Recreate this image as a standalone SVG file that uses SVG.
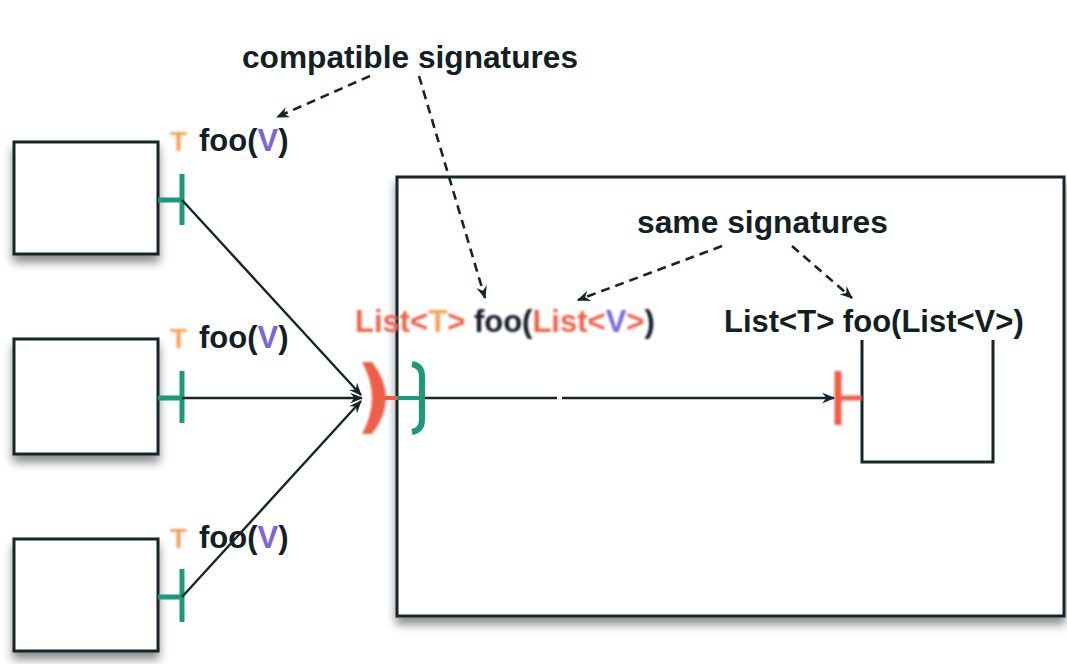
<svg xmlns="http://www.w3.org/2000/svg" width="1067" height="664" viewBox="0 0 1067 664">
  <style>
    .box { fill: #ffffff; stroke: #16252b; stroke-width: 3; }
    .txt { font-family: "Liberation Sans", Arial, sans-serif; font-weight: bold; font-size: 31px; fill: #141f25; }
    .ret { fill: #f7a257; font-size: 28px; }
    .tv { fill: #7a66d8; }
    .red { fill: #f0644e; }
    .conn { fill: none; stroke: #16252b; stroke-width: 2.4; }
    .dash { fill: none; stroke: #16252b; stroke-width: 2.6; stroke-dasharray: 9 6; }
    .gport { fill: none; stroke: #1a9a78; stroke-width: 5; }
    .rport { fill: none; stroke: #ef5d4a; }
  </style>
  <defs>
    <filter id="shadow" x="-10%" y="-10%" width="125%" height="130%">
      <feDropShadow dx="0" dy="7" stdDeviation="5" flood-color="#000000" flood-opacity="0.45"/>
    </filter>
    <filter id="soft" x="-20%" y="-20%" width="140%" height="140%">
      <feGaussianBlur stdDeviation="0.9"/>
    </filter>
    <marker id="arrow" viewBox="0 0 12 10" refX="11" refY="5" markerWidth="13" markerHeight="11" markerUnits="userSpaceOnUse" orient="auto">
      <path d="M0,0 L12,5 L0,10 L4,5 Z" fill="#16252b"/>
    </marker>
  </defs>
  <rect width="1067" height="664" fill="#ffffff"/>

  <!-- container component -->
  <g id="container">
    <rect class="box" x="397" y="177" width="667" height="439" filter="url(#shadow)"/>
  </g>

  <!-- inner part -->
  <g id="inner-part">
    <path d="M862,340 L862,462 L993,462 L993,340" fill="none" stroke="#16252b" stroke-width="3"/>
    <text class="txt" x="724" y="332">List&lt;T&gt; foo(List&lt;V&gt;)</text>
    <g filter="url(#soft)">
      <line class="rport" x1="838" y1="398" x2="862" y2="398" stroke-width="5"/>
      <line class="rport" x1="838" y1="371" x2="838" y2="425" stroke-width="7"/>
    </g>
  </g>

  <!-- container boundary ports -->
  <g id="boundary-ports">
    <path d="M362,362 L372,362 Q400,398 372,434 L362,434 Q382,398 362,362 Z" fill="#ee5f4a" filter="url(#soft)"/>
    <line x1="382" y1="398" x2="397" y2="398" stroke="#ef5d4a" stroke-width="4"/>
    <line x1="397" y1="398" x2="420" y2="398" stroke="#1a9a78" stroke-width="4"/>
    <path d="M412,364 Q422,366 422,376 L422,420 Q422,430 412,432" fill="none" stroke="#1a9a78" stroke-width="6"/>
    <text class="txt" x="355" y="332" filter="url(#soft)"><tspan class="red">List&lt;</tspan><tspan fill="#f7a257">T</tspan><tspan class="red">&gt;</tspan> foo(<tspan class="red">List&lt;</tspan><tspan class="tv">V</tspan><tspan class="red">&gt;</tspan>)</text>
  </g>

  <!-- client components -->
  <g id="client-1">
    <rect class="box" x="14" y="142" width="144" height="112" filter="url(#shadow)"/>
    <line class="gport" x1="158" y1="200" x2="182" y2="200"/>
    <line class="gport" x1="182" y1="174" x2="182" y2="225"/>
    <text class="txt ret" x="170" y="151" filter="url(#soft)">T</text>
    <text class="txt" x="199" y="151">foo(<tspan class="tv">V</tspan>)</text>
  </g>
  <g id="client-2">
    <rect class="box" x="14" y="339" width="144" height="115" filter="url(#shadow)"/>
    <line class="gport" x1="158" y1="398" x2="182" y2="398"/>
    <line class="gport" x1="182" y1="371" x2="182" y2="423"/>
    <text class="txt ret" x="170" y="348" filter="url(#soft)">T</text>
    <text class="txt" x="199" y="348">foo(<tspan class="tv">V</tspan>)</text>
  </g>
  <g id="client-3">
    <rect class="box" x="14" y="539" width="144" height="112" filter="url(#shadow)"/>
    <line class="gport" x1="158" y1="597" x2="182" y2="597"/>
    <line class="gport" x1="182" y1="569" x2="182" y2="622"/>
    <text class="txt ret" x="170" y="548" filter="url(#soft)">T</text>
    <text class="txt" x="199" y="548">foo(<tspan class="tv">V</tspan>)</text>
  </g>

  <!-- annotations -->
  <g id="notes">
    <text class="txt" x="242" y="68" textLength="336" lengthAdjust="spacingAndGlyphs">compatible signatures</text>
    <text class="txt" x="637" y="233" textLength="251" lengthAdjust="spacingAndGlyphs">same signatures</text>
  </g>

  <!-- connectors -->
  <g id="connectors">
    <line class="conn" x1="182" y1="200" x2="361" y2="395" marker-end="url(#arrow)"/>
    <line class="conn" x1="182" y1="398" x2="362" y2="398" marker-end="url(#arrow)"/>
    <line class="conn" x1="182" y1="597" x2="361" y2="401" marker-end="url(#arrow)"/>
    <line class="conn" x1="425" y1="398" x2="557" y2="398"/>
    <line class="conn" x1="562" y1="398" x2="834" y2="398" marker-end="url(#arrow)"/>
    <line class="dash" x1="370" y1="76" x2="277" y2="117" marker-end="url(#arrow)"/>
    <line class="dash" x1="419" y1="76" x2="485" y2="298" marker-end="url(#arrow)"/>
    <line class="dash" x1="722" y1="246" x2="578" y2="300" marker-end="url(#arrow)"/>
    <line class="dash" x1="792" y1="246" x2="852" y2="298" marker-end="url(#arrow)"/>
  </g>
</svg>
